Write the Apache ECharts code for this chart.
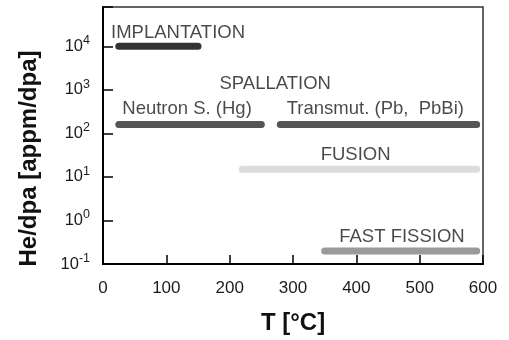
<!DOCTYPE html>
<html><head><meta charset="utf-8">
<script src="https://cdn.jsdelivr.net/npm/echarts@6/dist/echarts.min.js"></script>
<style>html,body{margin:0;padding:0;background:#fff}#c{width:509px;height:340px}</style>
</head><body><div id="c"></div>
<script>
// Operating temperature windows (°C) and helium-to-damage ratios (appm/dpa)
const ranges = ['IMPLANTATION', 'Neutron S. (Hg)', 'Transmut. (Pb,  PbBi)', 'FUSION', 'FAST FISSION'];
const tempStart = [25, 25, 280, 220, 350];
const tempEnd = [150, 250, 590, 590, 590];
const heRatio = [10000, 160, 160, 15, 0.2];

// Text annotations, anchored in data coordinates (T, He/dpa)
const noteText = ['IMPLANTATION', 'SPALLATION', 'Neutron S. (Hg)', 'Transmut. (Pb,  PbBi)', 'FUSION', 'FAST FISSION'];
const noteT = [118.5, 271.9, 132.7, 430, 398.8, 472];
const noteR = [20000, 1340, 360, 370, 31.7, 0.43];

const barColors = ['#333333', '#555555', '#555555', '#dcdcdc', '#9a9a9a'];
const FONT = '"Liberation Sans", Arial, Helvetica, sans-serif';
const TXT = '#1c1c1c';

const chart = echarts.init(document.getElementById('c'), null, { renderer: 'canvas' });

const barSeries = ranges.map((name, i) => ({
  name,
  type: 'line',
  silent: true,
  symbol: 'none',
  animation: false,
  data: [[tempStart[i], heRatio[i]], [tempEnd[i], heRatio[i]]],
  lineStyle: { color: barColors[i], width: 7, cap: 'round' },
  z: 3
}));

const noteSeries = {
  type: 'scatter',
  silent: true,
  animation: false,
  symbolSize: 0,
  data: noteText.map((t, i) => ({ value: [noteT[i], noteR[i]], name: t })),
  label: {
    show: true,
    position: 'inside',
    formatter: p => p.name,
    fontFamily: FONT,
    fontSize: 18.5,
    color: TXT
  },
  z: 4
};

// Powers of ten as 10 with a raised exponent; the axis end gets no label
function powerLabel(v) {
  const lg = Math.log10(v);
  const e = Math.round(lg);
  if (Math.abs(lg - e) > 1e-6) return '';
  return '{b|10}{s|' + e + '}';
}

chart.setOption({
  backgroundColor: '#fff',
  animation: false,
  grid: {
    left: 103, right: 26, top: 7, bottom: 69,
    show: true, borderColor: '#333', borderWidth: 1.5, backgroundColor: 'transparent'
  },
  xAxis: {
    type: 'value',
    min: 0, max: 600, interval: 100,
    axisLine: { show: true, lineStyle: { color: '#000', width: 2 } },
    axisTick: { show: true, inside: true, length: 9, lineStyle: { color: '#000', width: 1.5 } },
    splitLine: { show: false },
    axisLabel: { fontFamily: FONT, fontSize: 17, color: TXT, margin: 16 },
    name: 'T [°C]',
    nameLocation: 'middle',
    nameGap: 47,
    nameTextStyle: { fontFamily: FONT, fontSize: 24, fontWeight: 'bold', color: '#111' }
  },
  yAxis: {
    type: 'log',
    logBase: 10,
    min: 0.1, max: 80000,
    axisLine: { show: true, lineStyle: { color: '#000', width: 2 } },
    axisTick: { show: true, inside: true, length: 10, lineStyle: { color: '#000', width: 1.5 } },
    splitLine: { show: false },
    minorTick: { show: false },
    axisLabel: {
      margin: 13,
      formatter: powerLabel,
      rich: {
        b: { fontFamily: FONT, fontSize: 16.5, color: TXT, verticalAlign: 'middle', lineHeight: 24 },
        s: { fontFamily: FONT, fontSize: 12.5, color: TXT, verticalAlign: 'top', lineHeight: 13 }
      }
    },
    name: 'He/dpa [appm/dpa]',
    nameLocation: 'middle',
    nameGap: 62,
    nameTextStyle: { fontFamily: FONT, fontSize: 24, fontWeight: 'bold', color: '#111', padding: [0, 46, 0, 0] }
  },
  series: barSeries.concat([noteSeries])
});
</script>
</body></html>
